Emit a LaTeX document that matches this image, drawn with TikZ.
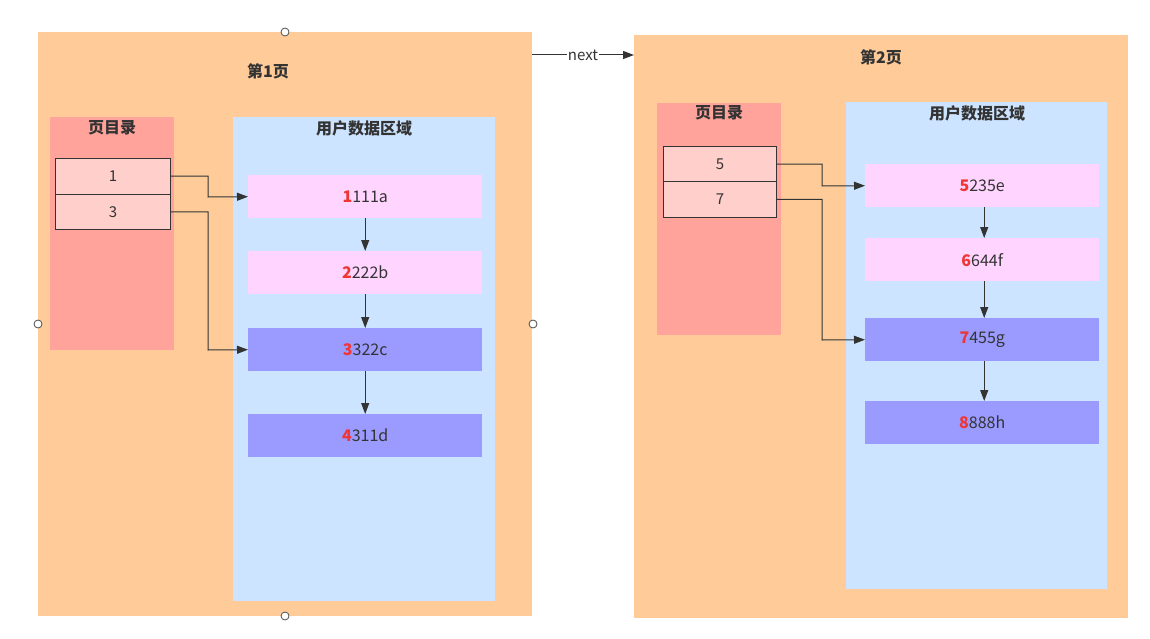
\documentclass[tikz,border=0pt]{standalone}
\usepackage{fontspec}
\setmainfont{Noto Sans CJK SC}
\usetikzlibrary{arrows.meta}
\definecolor{pageC}{HTML}{FFCC99}
\definecolor{dirC}{HTML}{FFA39B}
\definecolor{entC}{HTML}{FFCFCB}
\definecolor{userC}{HTML}{CCE4FF}
\definecolor{pinkC}{HTML}{FFD4FF}
\definecolor{purpC}{HTML}{9A9AFF}
\definecolor{txtC}{HTML}{333333}
\definecolor{numC}{HTML}{F03535}
\definecolor{lineC}{HTML}{333333}
\tikzset{
  box/.style={draw=none, inner sep=0pt, anchor=north west},
  ttl/.style={font=\fontsize{16}{17}\selectfont\bfseries, text=txtC},
  ent/.style={draw=lineC, line width=1pt, fill=entC, minimum width=115, minimum height=35.5, inner sep=0pt, anchor=north west, font=\fontsize{15}{16}\selectfont, text=txtC},
  rec/.style={minimum width=234, minimum height=43, inner sep=0pt, anchor=north west, font=\fontsize{16}{17}\selectfont, text=txtC},
  arr/.style={draw=lineC, line width=1pt, -{Triangle[length=11pt,width=8pt]}},
  handle/.style={circle, draw=black!70, fill=white, line width=0.8pt, minimum size=8, inner sep=0pt}
}
\newcommand{\rn}[2]{\textcolor{numC}{\bfseries #1}#2}
\begin{document}
\begin{tikzpicture}[x=1pt,y=-1pt]
\useasboundingbox (0,0) rectangle (1150,639);
\fill[white] (0,0) rectangle (1150,639);
% pages
\node[box, fill=pageC, minimum width=494, minimum height=584] (p1) at (38,32) {};
\node[box, fill=pageC, minimum width=494, minimum height=583] (p2) at (634,35) {};
\node[ttl] (t1) at (268,71) {第1页};
\node[ttl] (t2) at (881,57) {第2页};
% directory panels
\node[box, fill=dirC, minimum width=124, minimum height=233] (d1) at (50,117) {};
\node[ttl] (dt1) at (112,128) {页目录};
\node[box, fill=dirC, minimum width=124, minimum height=232] (d2) at (657,103) {};
\node[ttl] (dt2) at (719,113) {页目录};
% user areas
\node[box, fill=userC, minimum width=262, minimum height=484] (u1) at (233,117) {};
\node[ttl] (ut1) at (364,128) {用户数据区域};
\node[box, fill=userC, minimum width=261, minimum height=487] (u2) at (846,102) {};
\node[ttl] (ut2) at (977,113) {用户数据区域};
% entries
\node[ent] (e1) at (55,158) {1};
\node[ent] (e3) at (55,193.5) {3};
\node[ent, minimum width=113] (e5) at (663,146) {5};
\node[ent, minimum width=113] (e7) at (663,181) {7};
% records page 1
\node[rec, fill=pinkC] (r1) at (248,175) {\rn{1}{111a}};
\node[rec, fill=pinkC] (r2) at (248,251) {\rn{2}{222b}};
\node[rec, fill=purpC] (r3) at (248,328) {\rn{3}{322c}};
\node[rec, fill=purpC] (r4) at (248,414) {\rn{4}{311d}};
% records page 2
\node[rec, fill=pinkC] (r5) at (865,164) {\rn{5}{235e}};
\node[rec, fill=pinkC] (r6) at (865,238) {\rn{6}{644f}};
\node[rec, fill=purpC] (r7) at (865,318) {\rn{7}{455g}};
\node[rec, fill=purpC] (r8) at (865,401) {\rn{8}{888h}};
% connectors page 1
\draw[arr] (e1.east) -| (208,197) -- (r1.west);
\draw[arr] (e3.east) -| (208,350) -- (r3.west);
\draw[arr] (r1.south) -- (r2.north);
\draw[arr] (r2.south) -- (r3.north);
\draw[arr] (r3.south) -- (r4.north);
% connectors page 2
\draw[arr] (e5.east) -| (822,186) -- (r5.west);
\draw[arr] (e7.east) -| (822,340) -- (r7.west);
\draw[arr] ([xshift=2pt]r5.south) -- ([xshift=2pt]r6.north);
\draw[arr] ([xshift=2pt]r6.south) -- ([xshift=2pt]r7.north);
\draw[arr] ([xshift=2pt]r7.south) -- ([xshift=2pt]r8.north);
% next
\coordinate (n1) at (532,55);
\coordinate (n2) at (634,55);
\draw[arr] (n1) -- node[fill=white, inner sep=1pt, font=\fontsize{15}{16}\selectfont, text=txtC] (nl) {next} (n2);
% selection handles
\node[handle] (h1) at (285,32) {};
\node[handle] (h2) at (38,324) {};
\node[handle] (h3) at (533,324) {};
\node[handle] (h4) at (285,616) {};
\end{tikzpicture}
\end{document}
